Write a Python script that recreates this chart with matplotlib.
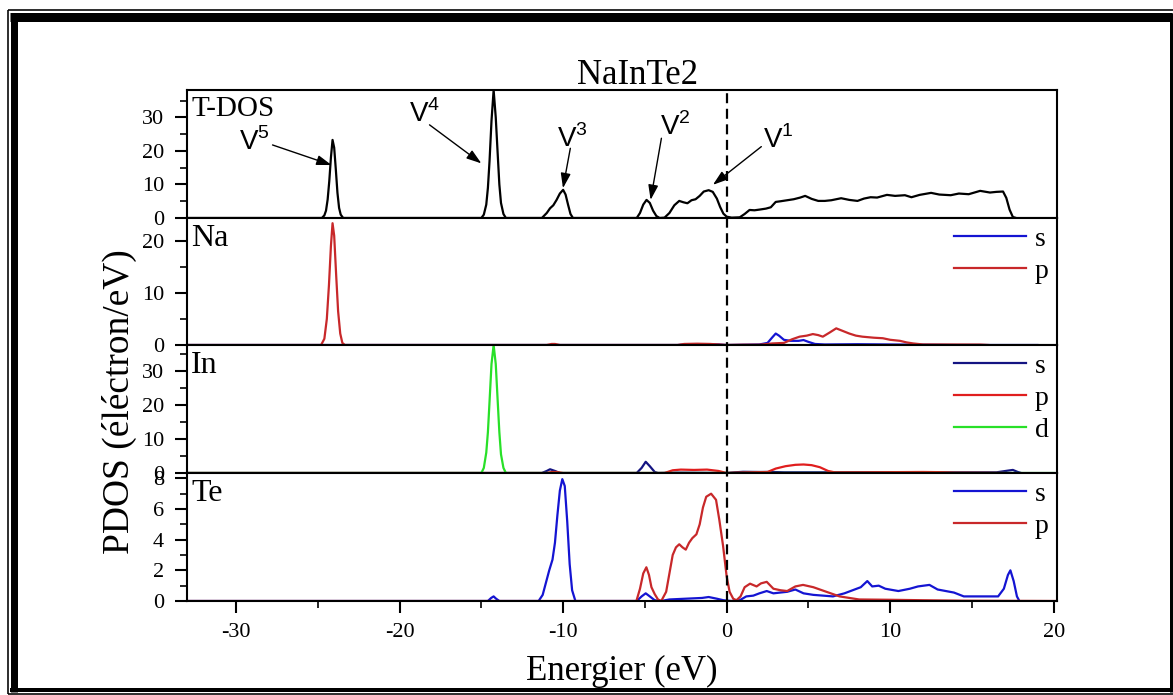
import numpy as np
import matplotlib
matplotlib.use('Agg')
import matplotlib.pyplot as plt
from matplotlib.lines import Line2D
from matplotlib import transforms

SERIF = ['Liberation Serif', 'DejaVu Serif']
SANS = ['Liberation Sans', 'DejaVu Sans']
plt.rcParams['font.family'] = SERIF
plt.rcParams['axes.unicode_minus'] = False

# ---------------- data (energy eV, DOS) ----------------
tdos = [(-33.0, 0), (-24.75, 0), (-24.6, 0.8), (-24.5, 2.2), (-24.4, 5.5), (-24.3, 11.0),
        (-24.2, 18.0), (-24.1, 23.3), (-24.0, 21.0), (-23.9, 14.5), (-23.8, 7.5),
        (-23.7, 3.0), (-23.6, 1.0), (-23.45, 0),
        (-15.0, 0), (-14.85, 1.0), (-14.7, 4.0), (-14.6, 9.0), (-14.5, 17.0), (-14.38, 29.0),
        (-14.25, 38.2), (-14.12, 30.0), (-14.0, 19.0), (-13.9, 10.0), (-13.8, 4.5),
        (-13.65, 1.2), (-13.5, 0),
        (-11.3, 0), (-11.0, 1.5), (-10.8, 2.9), (-10.6, 3.8), (-10.4, 5.4), (-10.2, 7.3),
        (-10.0, 8.4), (-9.85, 7.0), (-9.7, 4.0), (-9.55, 1.2), (-9.4, 0),
        (-5.5, 0), (-5.3, 1.5), (-5.1, 4.0), (-4.9, 5.4), (-4.7, 4.5), (-4.5, 2.2), (-4.3, 0.6),
        (-4.1, 0), (-3.8, 0.1), (-3.5, 1.5), (-3.2, 3.8), (-2.9, 5.1), (-2.65, 4.7), (-2.4, 4.4),
        (-2.15, 5.3), (-1.9, 5.6), (-1.65, 6.6), (-1.4, 7.9), (-1.1, 8.3), (-0.85, 7.8),
        (-0.6, 5.8), (-0.4, 3.3), (-0.2, 1.3), (0.0, 0.4), (0.3, 0.1), (0.8, 0.2), (1.1, 1.2),
        (1.4, 2.4), (1.7, 2.3), (2.0, 2.5), (2.4, 2.8), (2.7, 3.2), (3.0, 4.8), (3.3, 5.0),
        (3.7, 5.3), (4.1, 5.6), (4.5, 6.1), (4.8, 6.6), (5.2, 5.7), (5.6, 5.1), (6.0, 5.1),
        (6.4, 5.3), (7.0, 5.9), (7.5, 5.4), (8.0, 5.1), (8.4, 5.8), (8.8, 6.2), (9.2, 6.1),
        (9.8, 6.9), (10.3, 6.6), (10.9, 6.8), (11.3, 6.2), (11.8, 6.9), (12.5, 7.5), (13.0, 7.0),
        (13.7, 6.8), (14.2, 7.3), (14.8, 7.1), (15.5, 8.1), (16.1, 7.6), (16.5, 7.8), (16.9, 7.9),
        (17.1, 6.0), (17.3, 2.5), (17.5, 0.3), (17.7, 0)]

na_s = [(-33.0, 0), (-3.0, 0), (-2.5, 0.1), (-1.5, 0.15), (-0.5, 0.1), (0.0, 0), (1.0, 0.05),
        (2.0, 0.1), (2.5, 0.4), (2.8, 1.5), (3.0, 2.2), (3.2, 1.8), (3.5, 1.0), (3.9, 0.8),
        (4.4, 0.8), (4.7, 0.95), (5.0, 0.6), (5.4, 0.2), (6.0, 0.1), (8.0, 0.15), (10.0, 0.1),
        (12.0, 0.05), (14.0, 0), (19.0, 0)]
na_p = [(-33.0, 0), (-24.8, 0), (-24.6, 1.2), (-24.45, 5.0), (-24.32, 11.5), (-24.2, 19.0),
        (-24.1, 23.4), (-24.0, 21.0), (-23.88, 13.5), (-23.76, 6.5), (-23.63, 2.2), (-23.5, 0.4),
        (-23.35, 0), (-11.0, 0), (-10.7, 0.2), (-10.5, 0.2), (-10.2, 0), (-3.0, 0), (-2.6, 0.2),
        (-1.8, 0.25), (-1.0, 0.2), (-0.5, 0.1), (0.0, 0), (1.0, 0.05), (2.0, 0.05), (2.8, 0.3),
        (3.5, 0.4), (4.0, 1.1), (4.46, 1.6), (4.9, 1.8), (5.27, 2.1), (5.6, 1.9), (5.88, 1.6),
        (6.3, 2.4), (6.7, 3.2), (7.1, 2.7), (7.5, 2.2), (7.9, 1.8), (8.3, 1.6), (9.0, 1.4),
        (9.55, 1.3), (10.0, 1.0), (10.6, 0.8), (11.0, 0.5), (11.4, 0.3), (12.0, 0.1),
        (15.5, 0.08), (16.0, 0)]

in_s = [(-33.0, 0), (-11.3, 0), (-11.0, 0.6), (-10.8, 1.1), (-10.5, 0.6), (-10.2, 0),
        (-5.5, 0), (-5.2, 1.5), (-4.95, 3.3), (-4.7, 2.0), (-4.4, 0.3), (-4.2, 0), (-3.0, 0.1),
        (0.0, 0), (0.5, 0.2), (1.0, 0.35), (2.0, 0.3), (2.8, 0.3), (3.5, 0.2), (6.0, 0.2),
        (10.0, 0.25), (14.0, 0.2), (16.5, 0.2), (17.2, 0.7), (17.5, 0.9), (17.8, 0.3), (18.0, 0)]
in_p = [(-33.0, 0), (-11.0, 0), (-10.7, 0.3), (-10.4, 0.3), (-10.0, 0), (-3.8, 0), (-3.3, 0.8),
        (-2.8, 1.0), (-2.0, 0.9), (-1.2, 1.0), (-0.5, 0.6), (0.0, 0), (0.5, 0.1), (1.5, 0.2),
        (2.5, 0.3), (3.0, 1.3), (3.6, 2.0), (4.2, 2.4), (4.7, 2.5), (5.2, 2.3), (5.7, 1.7),
        (6.2, 0.6), (6.6, 0.2), (8.0, 0.2), (10.0, 0.25), (12.0, 0.3), (13.0, 0.25),
        (14.0, 0.1), (16.0, 0.05), (17.0, 0)]
in_d = [(-33.0, 0), (-15.0, 0), (-14.85, 1.5), (-14.7, 6.0), (-14.6, 12.0), (-14.5, 21.0),
        (-14.38, 32.0), (-14.25, 37.6), (-14.12, 32.0), (-14.0, 21.0), (-13.9, 12.0),
        (-13.8, 5.5), (-13.65, 1.5), (-13.5, 0), (20.0, 0)]

te_s = [(-33.0, 0), (-14.6, 0), (-14.4, 0.2), (-14.25, 0.3), (-14.1, 0.15), (-13.9, 0),
        (-11.5, 0), (-11.25, 0.4), (-11.05, 1.2), (-10.85, 2.0), (-10.65, 2.7), (-10.5, 3.8),
        (-10.35, 5.6), (-10.2, 7.2), (-10.05, 7.95), (-9.9, 7.5), (-9.75, 5.2), (-9.6, 2.4),
        (-9.45, 0.7), (-9.25, 0), (-5.5, 0), (-5.2, 0.3), (-4.95, 0.5), (-4.7, 0.3), (-4.4, 0.05),
        (-4.0, 0), (-3.5, 0.1), (-2.5, 0.15), (-1.5, 0.2), (-1.1, 0.26), (-0.6, 0.15),
        (-0.2, 0.05), (0.3, 0), (0.8, 0.05), (1.2, 0.3), (1.63, 0.35), (2.0, 0.5), (2.45, 0.65),
        (2.86, 0.5), (3.27, 0.55), (3.7, 0.6), (4.2, 0.75), (4.7, 0.5), (5.3, 0.4), (6.5, 0.3),
        (7.2, 0.5), (7.7, 0.7), (8.2, 0.9), (8.6, 1.3), (8.9, 0.95), (9.3, 1.0), (9.7, 0.8),
        (10.5, 0.65), (11.2, 0.8), (11.7, 0.95), (12.4, 1.05), (12.9, 0.75), (13.9, 0.55),
        (14.5, 0.3), (16.6, 0.3), (16.95, 0.8), (17.2, 1.7), (17.35, 2.0), (17.55, 1.3),
        (17.75, 0.3), (17.9, 0)]
te_p = [(-33.0, 0), (-5.52, 0), (-5.3, 0.8), (-5.1, 1.8), (-4.91, 2.2), (-4.75, 1.7),
        (-4.6, 0.9), (-4.4, 0.45), (-4.2, 0.1), (-4.0, 0), (-3.7, 0.6), (-3.5, 1.8),
        (-3.3, 3.0), (-3.1, 3.5), (-2.9, 3.7), (-2.7, 3.5), (-2.5, 3.35), (-2.3, 3.8),
        (-2.1, 4.1), (-1.85, 4.35), (-1.65, 5.0), (-1.45, 6.1), (-1.25, 6.8), (-0.95, 7.0),
        (-0.65, 6.6), (-0.45, 5.3), (-0.22, 3.6), (0.0, 1.6), (0.18, 0.6), (0.4, 0.15),
        (0.6, 0.05), (0.85, 0.3), (1.1, 0.9), (1.43, 1.13), (1.83, 0.95), (2.1, 1.15),
        (2.45, 1.25), (2.86, 0.8), (3.3, 0.7), (3.7, 0.65), (4.2, 0.95), (4.67, 1.05),
        (5.3, 0.9), (6.1, 0.6), (6.9, 0.3), (8.1, 0.1), (10.0, 0.08), (12.0, 0.05),
        (14.5, 0.02), (20.2, 0)]

panel_names = ['T-DOS', 'Na', 'In', 'Te']
panel_ylim = [38.2, 24.4, 37.6, 8.35]
panel_yticks = [[0, 10, 20, 30], [0, 10, 20], [0, 10, 20, 30], [0, 2, 4, 6, 8]]
panel_minor = [5, 5, 5, 1]
xticks = [-30, -20, -10, 0, 10, 20]

# annotations: label, arrow tip (E, DOS), arrow start, text anchor (left, baseline)
ann_labels = ['V$^\\mathregular{5}$', 'V$^\\mathregular{4}$', 'V$^\\mathregular{3}$',
              'V$^\\mathregular{2}$', 'V$^\\mathregular{1}$']
ann_tip = [(-24.16, 15.8), (-15.0, 16.3), (-10.01, 8.9), (-4.65, 5.4), (-0.84, 9.9)]
ann_start = [(-27.77, 21.8), (-18.17, 27.8), (-9.56, 20.8), (-3.99, 23.8), (2.12, 21.3)]
ann_text = [(-29.8, 20.3), (-19.4, 28.7), (-10.4, 21.2), (-4.1, 24.8), (2.2, 20.9)]

C_BLUE = '#1414d2'
C_NAVY = '#141482'
C_RED = '#e01e1e'
C_DRED = '#c8282a'
C_GREEN = '#28e028'

# ---------------- figure ----------------
W, H = 1173, 695
fig = plt.figure(figsize=(W / 100, H / 100), dpi=100)

tops = [90, 218, 345, 473]
bots = [218, 345, 473, 601]
L, R = 187, 1057
axes = []
for t, b in zip(tops, bots):
    ax = fig.add_axes([L / W, 1 - b / H, (R - L) / W, (b - t) / H])
    axes.append(ax)

def arr(a):
    a = np.array(a, dtype=float)
    return a[:, 0], a[:, 1]

ax0, ax1, ax2, ax3 = axes
lw = 1.6
ax0.plot(*arr(tdos), color='black', lw=lw)
ax1.plot(*arr(na_s), color=C_BLUE, lw=lw, label='s')
ax1.plot(*arr(na_p), color=C_DRED, lw=lw, label='p')
ax2.plot(*arr(in_s), color=C_NAVY, lw=lw, label='s')
ax2.plot(*arr(in_p), color=C_RED, lw=lw, label='p')
ax2.plot(*arr(in_d), color=C_GREEN, lw=lw, label='d')
ax3.plot(*arr(te_s), color=C_BLUE, lw=lw, label='s')
ax3.plot(*arr(te_p), color=C_DRED, lw=lw, label='p')

for i, ax in enumerate(axes):
    ax.set_xlim(-33.0, 20.2)
    ax.set_ylim(0, panel_ylim[i])
    ax.set_yticks(panel_yticks[i])
    ax.yaxis.set_minor_locator(matplotlib.ticker.MultipleLocator(panel_minor[i]))
    ax.tick_params(axis='y', which='major', direction='out', length=8.5, width=1.5,
                   labelsize=16, pad=8)
    ax.tick_params(axis='y', which='minor', direction='out', length=5, width=1.2)
    for sp in ax.spines.values():
        sp.set_linewidth(1.5)
    ax.text(0.005, 0.95, panel_names[i], transform=ax.transAxes, ha='left', va='top',
            fontsize=21 if i == 0 else 23)
    if i < 3:
        ax.tick_params(axis='x', which='both', bottom=False, labelbottom=False)
    else:
        ax.set_xticks(xticks)
        ax.xaxis.set_minor_locator(matplotlib.ticker.MultipleLocator(5))
        ax.tick_params(axis='x', which='major', direction='out', length=8.5, width=1.5,
                       labelsize=16, pad=7)
        ax.tick_params(axis='x', which='minor', direction='out', length=5, width=1.2)
    if i > 0:
        leg = ax.legend(loc='upper right', bbox_to_anchor=(1.0, 1.0), frameon=False,
                        fontsize=20, handlelength=2.6, handletextpad=0.3,
                        labelspacing=0.24, borderaxespad=0.25, borderpad=0.05)

# Fermi level dashed line across all panels
blend = transforms.blended_transform_factory(ax3.transData, fig.transFigure)
fig.add_artist(Line2D([0, 0], [1 - 601 / H, 1 - 89 / H], transform=blend, color='black',
                      lw=1.6, linestyle=(0, (4.5, 2.5))))

# annotations
for lab, tip, st, tx in zip(ann_labels, ann_tip, ann_start, ann_text):
    ax0.annotate('', xy=tip, xytext=st,
                 arrowprops=dict(arrowstyle='-|>,head_length=0.9,head_width=0.3',
                                 color='black', lw=1.0, shrinkA=0, shrinkB=0))
    ax0.text(tx[0], tx[1], lab, fontsize=20, family=SANS, ha='left', va='baseline')

fig.text(638 / W, 1 - 84 / H, 'NaInTe2', fontsize=25, ha='center', va='baseline')
fig.text(622 / W, 1 - 680 / H, 'Energier (eV)', fontsize=25, ha='center', va='baseline')
fig.text(119 / W, 1 - 402 / H, 'PDOS (éléctron/eV)', fontsize=27, rotation=90,
         ha='center', va='center')

# page border (thin + thick)
def pline(x0, y0, x1, y1, wpx):
    fig.add_artist(Line2D([x0 / W, x1 / W], [1 - y0 / H, 1 - y1 / H],
                          transform=fig.transFigure, color='black', lw=wpx * 0.72,
                          solid_capstyle='butt'))

pline(7.5, 9.5, 1172.5, 9.5, 1.6)
pline(7.5, 9.5, 7.5, 694.3, 1.6)
pline(7.5, 694.3, 1172.5, 694.3, 1.6)
pline(10, 17.2, 1172, 17.2, 9)
pline(13.6, 13, 13.6, 692, 7)
pline(10, 690, 1172, 690, 4)
pline(1170.5, 13, 1170.5, 692, 3)

fig.savefig('out.png', dpi=100)
